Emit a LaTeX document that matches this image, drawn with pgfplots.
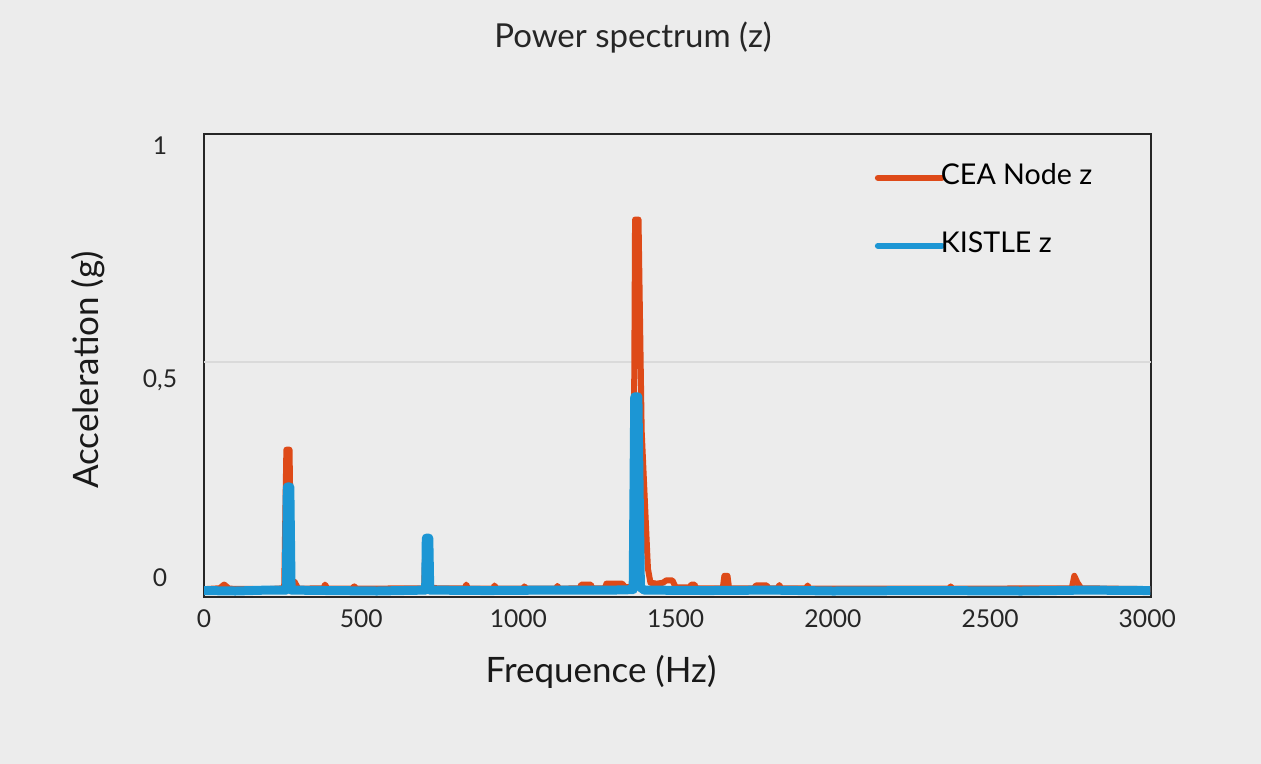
\documentclass[border=0pt]{standalone}
\usepackage{pgfplots}
\pgfplotsset{compat=1.18}
\usepackage{fontspec}
\setmainfont{Lato}
\definecolor{bg}{RGB}{236,236,236}
\definecolor{cea}{RGB}{222,74,24}
\definecolor{kis}{RGB}{28,150,212}
\definecolor{gline}{RGB}{218,218,218}
\pgfplotstableread{
x y
0 0.006
50 0.008
64 0.016
80 0.007
200 0.006
255 0.008
262 0.309
272 0.309
278 0.02
288 0.022
300 0.007
380 0.008
385 0.016
392 0.007
470 0.007
478 0.012
486 0.007
700 0.008
705 0.117
716 0.117
722 0.01
740 0.008
830 0.008
834 0.016
840 0.007
920 0.007
924 0.014
930 0.007
1015 0.007
1019 0.012
1025 0.007
1120 0.007
1124 0.013
1130 0.007
1195 0.008
1200 0.016
1230 0.016
1235 0.008
1275 0.008
1280 0.018
1330 0.018
1340 0.01
1365 0.012
1371 0.809
1382 0.809
1392 0.35
1402 0.2
1412 0.05
1420 0.02
1440 0.018
1460 0.02
1470 0.025
1490 0.025
1500 0.01
1545 0.01
1550 0.016
1560 0.016
1565 0.008
1650 0.008
1655 0.035
1665 0.035
1670 0.008
1750 0.008
1755 0.014
1790 0.014
1795 0.008
1825 0.008
1830 0.015
1835 0.008
1915 0.008
1920 0.014
1925 0.007
2370 0.007
2375 0.012
2380 0.007
2760 0.008
2768 0.035
2778 0.02
2790 0.008
3010 0.006
}\ceatab
\pgfplotstableread{
x y
0 0.003
100 0.002
200 0.004
262 0.004
265 0.228
273 0.228
277 0.004
400 0.003
550 0.002
705 0.004
707 0.117
715 0.117
718 0.004
900 0.003
1100 0.004
1300 0.004
1365 0.005
1370 0.424
1380 0.424
1388 0.01
1400 0.004
1600 0.003
1800 0.004
2000 0.002
2300 0.003
2600 0.002
2800 0.004
3010 0.003
}\kistab
\begin{document}
\begin{tikzpicture}
\fill[bg] (0,0) rectangle (630.5pt,382pt);
\useasboundingbox (0,0) rectangle (630.5pt,382pt);
\node[font=\fontsize{16.5pt}{18pt}\selectfont, text=black!85] at (316.5pt,363pt) {Power spectrum (z)};
\node[font=\fontsize{17.5pt}{20pt}\selectfont, text=black!90] at (300.5pt,46pt) {Frequence (Hz)};
\node[font=\fontsize{17.5pt}{20pt}\selectfont, text=black!90, rotate=90] at (44pt,197pt) {Acceleration (g)};
\begin{axis}[
  at={(102pt,83.5pt)}, anchor=south west,
  width=473.5pt, height=231.5pt, scale only axis,
  xmin=0, xmax=3012, ymin=-0.011, ymax=0.995,
  axis background/.style={fill=bg},
  axis line style={line width=1pt, black!85},
  xtick={0,500,1000,1500,2000,2500,3000},
  xticklabels={0,500,1000,1500,2000,2500,3000},
  ytick={0.03,0.461,0.97},
  yticklabels={0,{0,5},1},
  major tick length=0pt,
  tick label style={font=\fontsize{12.3pt}{14pt}\selectfont, text=black!85},
  xticklabel style={yshift=-3pt},
  yticklabel style={anchor=center, xshift=-22pt},
  legend style={at={(0.708,0.945)}, anchor=north west, draw=none, fill=none,
    font=\fontsize{14.3pt}{16pt}\selectfont, row sep=18pt, inner sep=0pt},
  legend cell align=left,
  legend image code/.code={\draw[#1, line width=3pt, line cap=round] (0pt,-1pt) -- (32pt,-1pt);},
  every axis legend/.append style={/tikz/every even column/.append style={column sep=0pt}},
]
\draw[gline, line width=0.8pt] (axis cs:0,0.5) -- (axis cs:3012,0.5);
\addplot[cea, line width=3pt, line join=round] table[x=x,y=y] {\ceatab};
\addlegendentry{\hspace{-4pt}CEA Node z}
\addplot[kis, line width=4.5pt, line join=round] table[x=x,y=y] {\kistab};
\addlegendentry{\hspace{-4pt}KISTLE z}
\end{axis}
\end{tikzpicture}
\end{document}
